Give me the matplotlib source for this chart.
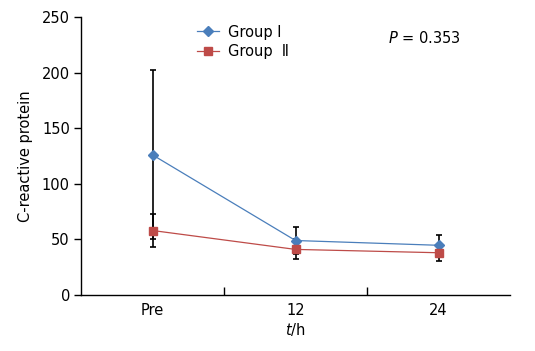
import matplotlib.pyplot as plt
import numpy as np

categories = ["Pre", "12", "24"]
group1_mean = [126, 49, 44.7]
group1_sd = [76, 12.5, 9.6]
group2_mean = [58, 41, 38]
group2_sd = [15, 9, 7.5]

plt.rcParams['font.family'] = ['DejaVu Sans']
plt.rcParams['mathtext.fontset'] = 'custom'
plt.rcParams['mathtext.it'] = 'DejaVu Sans:italic'
fs = 10.5

fig = plt.figure(figsize=(5.35, 3.51), dpi=100)
ax = fig.add_axes([81 / 535, 1 - 295 / 351, 429 / 535, 278 / 351])

x = np.arange(len(categories))

# error bars first, black
ax.errorbar(x, group1_mean, yerr=group1_sd, fmt='none', ecolor='black',
            elinewidth=1.2, capsize=2.5, capthick=1.2, zorder=2)
ax.errorbar(x, group2_mean, yerr=group2_sd, fmt='none', ecolor='black',
            elinewidth=1.2, capsize=2.5, capthick=1.2, zorder=2)

ax.plot(x, group1_mean, color='#4a7ebb', lw=0.9, marker='D', ms=5,
        label='Group Ⅰ', zorder=3)
ax.plot(x, group2_mean, color='#be4b48', lw=0.9, marker='s', ms=5.5,
        label='Group  Ⅱ', zorder=3)

ax.set_xlim(-0.5, 2.5)
ax.set_ylim(0, 250)
ax.set_yticks([0, 50, 100, 150, 200, 250])
ax.set_xticks(x)
ax.set_xticklabels(categories)
ax.set_xticks([0.5, 1.5], minor=True)
ax.tick_params(axis='x', which='major', length=0, labelsize=fs, pad=6)
ax.tick_params(axis='x', which='minor', direction='in', length=6, width=1)
ax.tick_params(axis='y', direction='out', length=5, width=1, labelsize=fs, pad=3)

for s in ['top', 'right']:
    ax.spines[s].set_visible(False)
for s in ['left', 'bottom']:
    ax.spines[s].set_linewidth(1)

ax.set_ylabel('C-reactive protein', fontsize=fs, labelpad=6)
ax.set_xlabel('$\\it{t}$/h', fontsize=fs, labelpad=2)

ax.legend(loc='upper left', bbox_to_anchor=(0.24, 1.02), frameon=False,
          fontsize=fs, handlelength=1.5, labelspacing=0.3, handletextpad=0.6)

ax.text(0.715, 0.925, '$\\it{P}$ = 0.353', transform=ax.transAxes,
        fontsize=fs, va='center', ha='left')

fig.savefig('out.png', dpi=100)
